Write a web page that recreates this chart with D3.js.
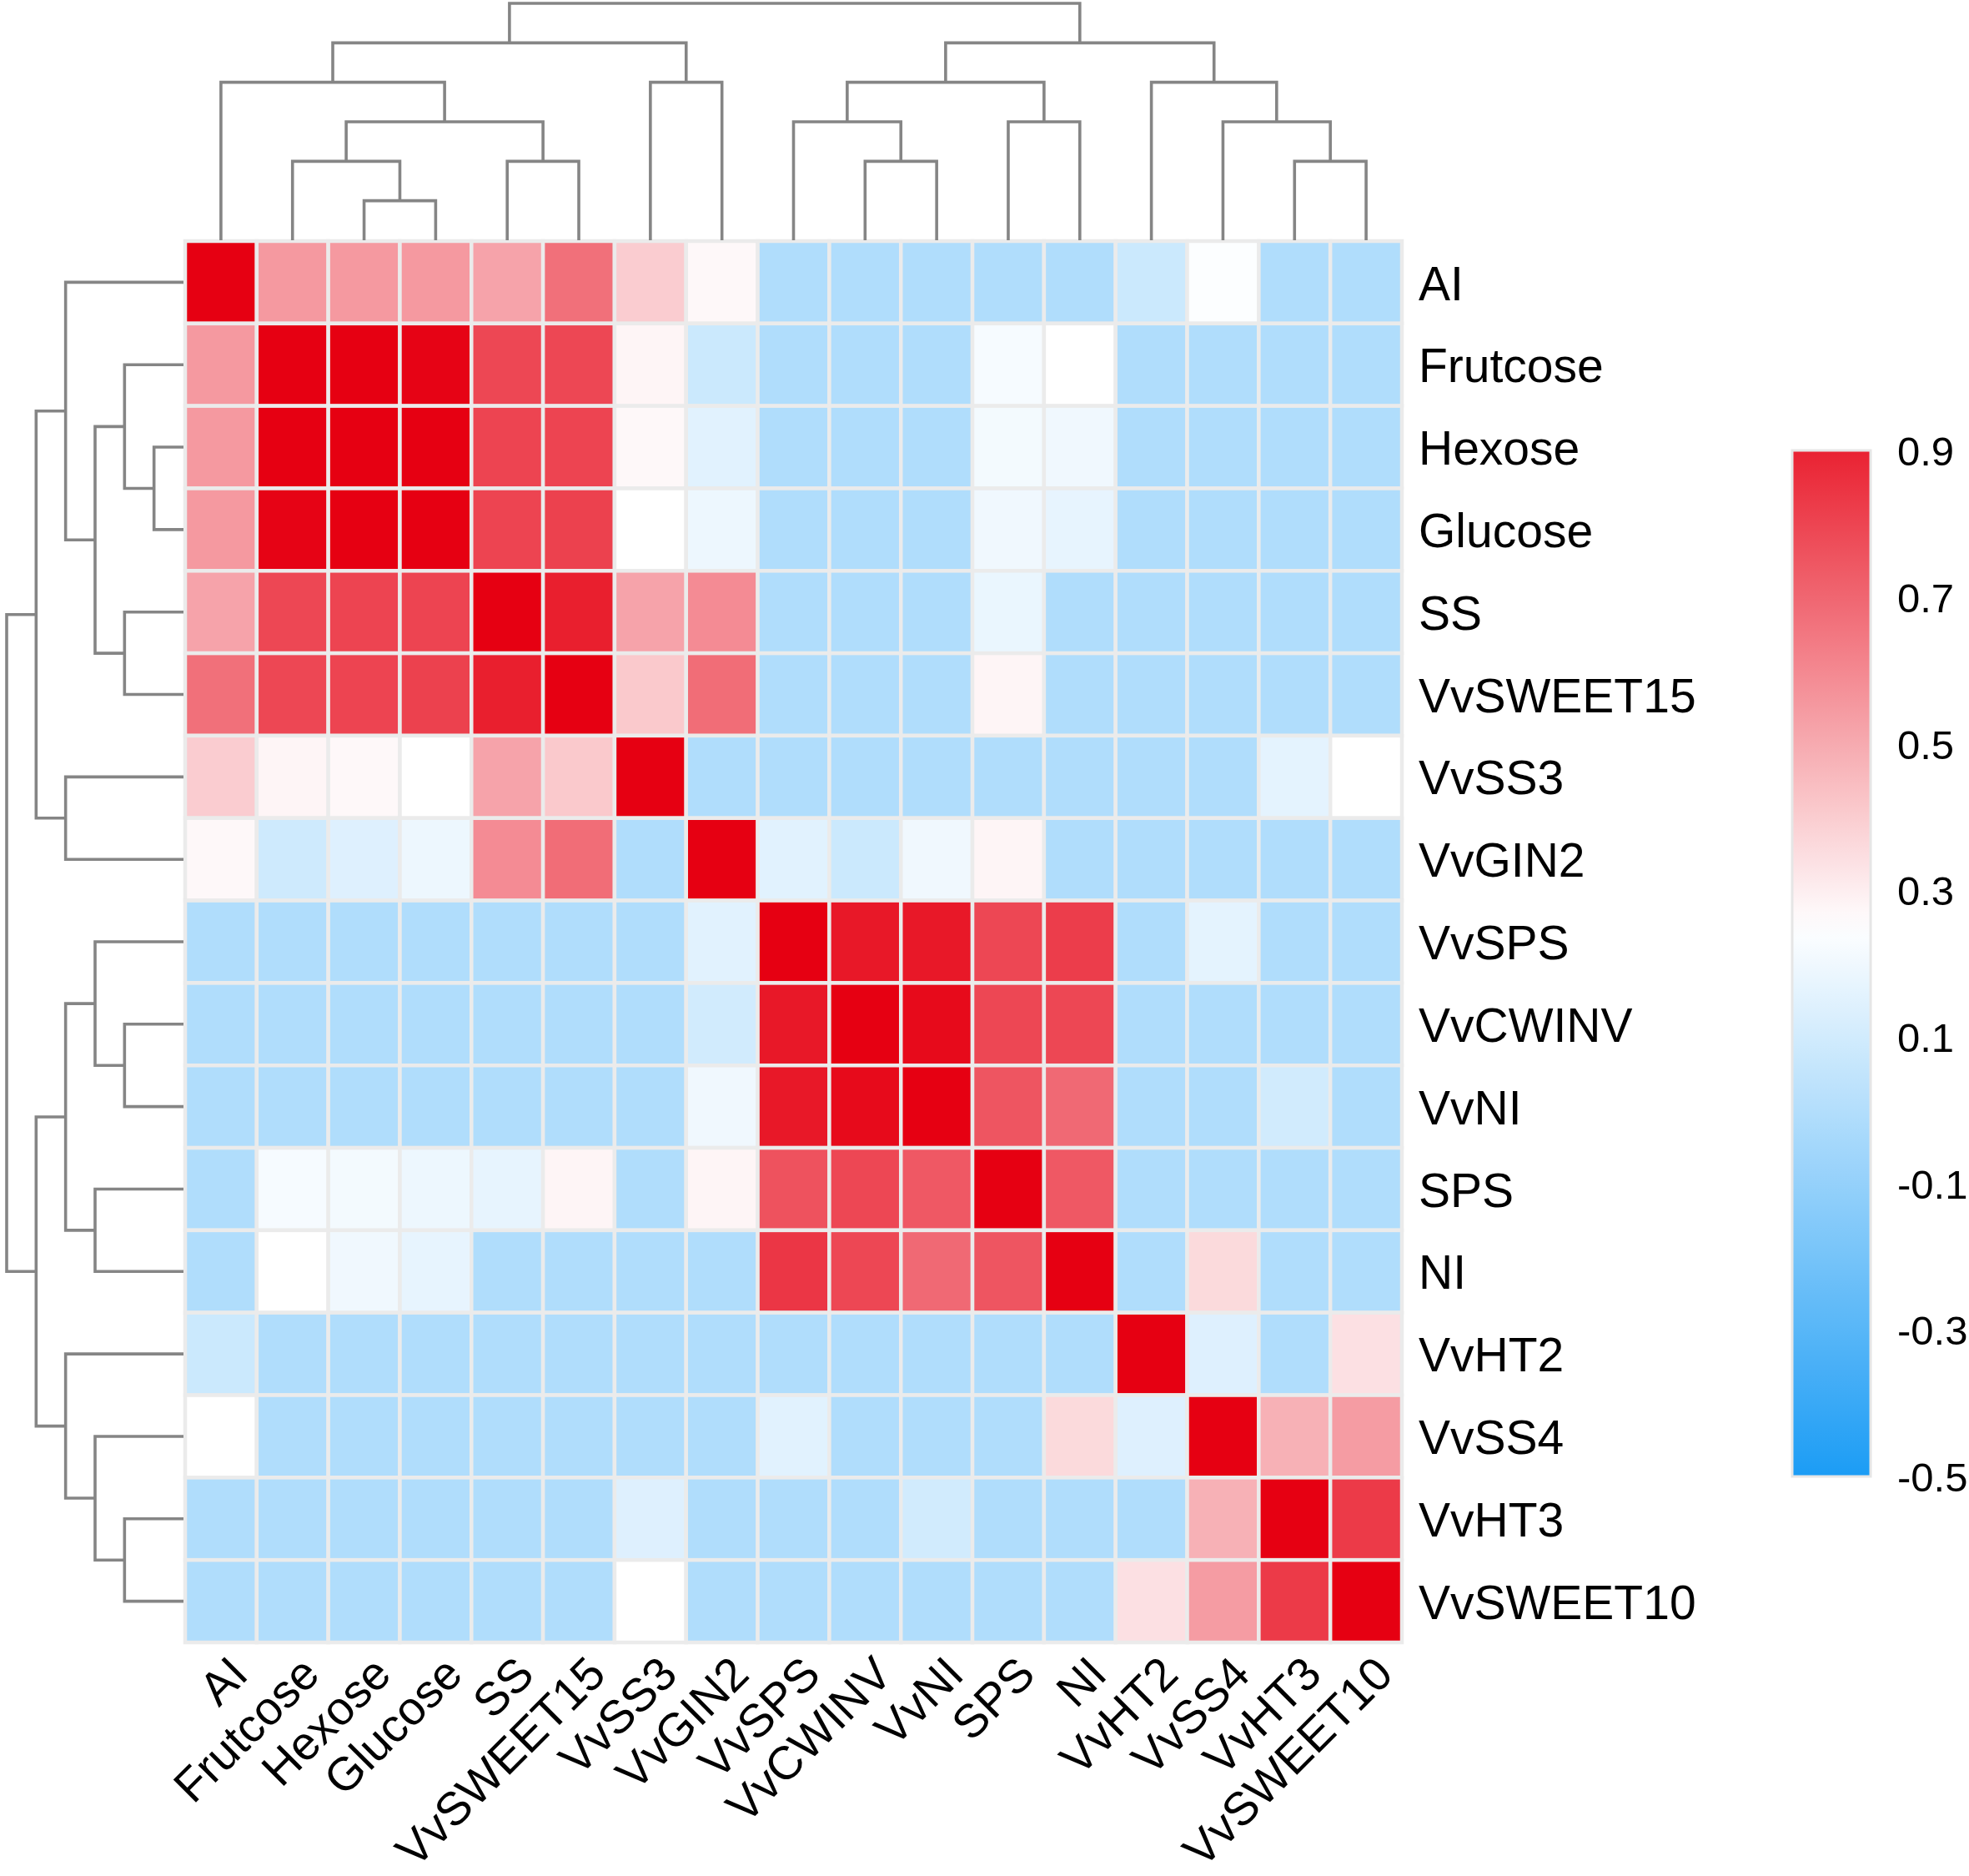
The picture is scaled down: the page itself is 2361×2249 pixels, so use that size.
<!DOCTYPE html>
<html>
<head>
<meta charset="utf-8">
<script src="https://cdn.jsdelivr.net/npm/d3@7"></script>
<style>
  body { margin: 0; background: #fff; }
  text { font-family: "Liberation Sans", Arial, sans-serif; fill: #000; }
</style>
</head>
<body>
<script>
// Data ////////////////////////////////////////////////////////////////////

const labels = [
  "AI", "Frutcose", "Hexose", "Glucose", "SS", "VvSWEET15", "VvSS3", "VvGIN2",
  "VvSPS", "VvCWINV", "VvNI", "SPS", "NI", "VvHT2", "VvSS4", "VvHT3", "VvSWEET10",
];

// correlation matrix, rows and columns in label order
const values = [
  [1.00, 0.55, 0.55, 0.55, 0.52, 0.67, 0.40, 0.27, -0.01, -0.01, -0.01, -0.01, -0.01, 0.08, 0.24, -0.01, -0.01],
  [0.55, 1.00, 1.00, 0.99, 0.79, 0.79, 0.28, 0.08, -0.01, -0.01, -0.01, 0.22, 0.25, -0.01, -0.01, -0.01, -0.01],
  [0.55, 1.00, 1.00, 1.00, 0.80, 0.80, 0.27, 0.15, -0.01, -0.01, -0.01, 0.21, 0.20, -0.01, -0.01, -0.01, -0.01],
  [0.55, 0.99, 1.00, 1.00, 0.80, 0.81, 0.25, 0.19, -0.01, -0.01, -0.01, 0.20, 0.17, -0.01, -0.01, -0.01, -0.01],
  [0.52, 0.79, 0.80, 0.80, 1.00, 0.91, 0.52, 0.59, -0.01, -0.01, -0.01, 0.18, -0.01, -0.01, -0.01, -0.01, -0.01],
  [0.67, 0.79, 0.80, 0.81, 0.91, 1.00, 0.41, 0.68, -0.01, -0.01, -0.01, 0.28, -0.01, -0.01, -0.01, -0.01, -0.01],
  [0.40, 0.28, 0.27, 0.25, 0.52, 0.41, 1.00, -0.01, -0.01, -0.01, -0.01, -0.01, -0.01, -0.01, -0.01, 0.16, 0.25],
  [0.27, 0.09, 0.14, 0.19, 0.59, 0.68, -0.01, 1.00, 0.15, 0.08, 0.20, 0.28, -0.01, -0.01, -0.01, -0.01, -0.01],
  [-0.01, -0.01, -0.01, -0.01, -0.01, -0.01, -0.01, 0.15, 1.00, 0.93, 0.93, 0.79, 0.82, -0.01, 0.16, -0.01, -0.01],
  [-0.01, -0.01, -0.01, -0.01, -0.01, -0.01, -0.01, 0.10, 0.93, 1.00, 0.97, 0.79, 0.79, -0.01, -0.01, -0.01, -0.01],
  [-0.01, -0.01, -0.01, -0.01, -0.01, -0.01, -0.01, 0.20, 0.93, 0.97, 1.00, 0.75, 0.69, -0.01, -0.01, 0.10, -0.01],
  [-0.01, 0.22, 0.21, 0.19, 0.17, 0.28, -0.01, 0.28, 0.76, 0.79, 0.74, 1.00, 0.74, -0.01, -0.01, -0.01, -0.01],
  [-0.01, 0.25, 0.20, 0.17, -0.01, -0.01, -0.01, -0.01, 0.84, 0.79, 0.69, 0.75, 1.00, -0.01, 0.36, -0.01, -0.01],
  [0.08, -0.01, -0.01, -0.01, -0.01, -0.01, -0.01, -0.01, -0.01, -0.01, -0.01, -0.01, -0.01, 1.00, 0.14, -0.01, 0.34],
  [0.25, -0.01, -0.01, -0.01, -0.01, -0.01, -0.01, -0.01, 0.15, -0.01, -0.01, -0.01, 0.36, 0.14, 1.00, 0.48, 0.54],
  [-0.01, -0.01, -0.01, -0.01, -0.01, -0.01, 0.14, -0.01, -0.01, -0.01, 0.10, -0.01, -0.01, -0.01, 0.48, 1.00, 0.83],
  [-0.01, -0.01, -0.01, -0.01, -0.01, -0.01, 0.25, -0.01, -0.01, -0.01, -0.01, -0.01, -0.01, 0.34, 0.54, 0.83, 1.00],
];

// hierarchical clustering merges (same tree for rows and columns), "mK" = K-th merge
const mergeLeft = ["Hexose", "Frutcose", "SS", "VvCWINV", "VvHT3", "m2", "VvSPS", "SPS",
  "VvSS4", "AI", "VvSS3", "m7", "VvHT2", "m10", "m12", "m14"];
const mergeRight = ["Glucose", "m1", "VvSWEET15", "VvNI", "VvSWEET10", "m3", "m4", "NI",
  "m5", "m6", "VvGIN2", "m8", "m9", "m11", "m13", "m15"];
const mergeHeight = [1, 2, 2, 2, 2, 3, 3, 3, 3, 4, 4, 4, 4, 5, 5, 6];

const legendTicks = [-0.5, -0.3, -0.1, 0.1, 0.3, 0.5, 0.7, 0.9];
const colorDomain = [-0.5, 0.25, 1.0];

// Layout //////////////////////////////////////////////////////////////////

const width = 2361;
const height = 2249;
const heat = { left: 222, right: 1681, top: 289, bottom: 1969 };
const legendBox = { x: 2149, y: 540, w: 94, h: 1230 };

const svg = d3
  .select("body")
  .append("svg")
  .attr("width", width)
  .attr("height", height);

svg.append("rect").attr("width", width).attr("height", height).attr("fill", "#fff");

const xScale = d3.scaleBand().domain(labels).range([heat.left, heat.right]);
const yScale = d3.scaleBand().domain(labels).range([heat.top, heat.bottom]);
const color = d3
  .scaleLinear()
  .domain(colorDomain)
  .range(["#1b9cf5", "#ffffff", "#e60012"])
  .clamp(true);

const tree = buildTree();

drawHeatmap(svg.append("g"));
drawRowLabels(svg.append("g"));
drawColumnLabels(svg.append("g"));
drawDendrogram(svg.append("g"), tree, "top");
drawDendrogram(svg.append("g"), tree, "left");
drawLegend(svg.append("g"));

// Heatmap /////////////////////////////////////////////////////////////////

function drawHeatmap(root) {
  const cells = values.flatMap((row, i) =>
    row.map((v, j) => ({ row: labels[i], col: labels[j], v }))
  );

  root
    .selectAll("rect")
    .data(cells)
    .join("rect")
    .attr("x", (d) => xScale(d.col))
    .attr("y", (d) => yScale(d.row))
    .attr("width", xScale.bandwidth())
    .attr("height", yScale.bandwidth())
    .attr("fill", (d) => color(d.v))
    .attr("stroke", "#ebebeb")
    .attr("stroke-width", 4.5);
}

function drawRowLabels(root) {
  root
    .attr("transform", `translate(${heat.right}, 0)`)
    .call(d3.axisRight(yScale).tickSize(0).tickPadding(20))
    .call((g) => g.select(".domain").remove())
    .selectAll("text")
    .attr("dy", "0.37em")
    .attr("font-size", 57)
    .attr("font-family", '"Liberation Sans", Arial, sans-serif')
    .attr("fill", "#000");
}

function drawColumnLabels(root) {
  root
    .attr("transform", `translate(0, ${heat.bottom})`)
    .call(d3.axisBottom(xScale).tickSize(0))
    .call((g) => g.select(".domain").remove())
    .selectAll("text")
    .attr("x", 0)
    .attr("y", 0)
    .attr("dy", 0)
    .attr("transform", "translate(35, 41) rotate(-45)")
    .attr("text-anchor", "end")
    .attr("font-size", 56)
    .attr("font-family", '"Liberation Sans", Arial, sans-serif')
    .attr("fill", "#000");
}

// Dendrogram //////////////////////////////////////////////////////////////

function buildTree() {
  const nodes = new Map(labels.map((name) => [name, { name, height: 0 }]));
  mergeHeight.forEach((h, i) => {
    const id = `m${i + 1}`;
    nodes.set(id, {
      name: id,
      height: h,
      children: [nodes.get(mergeLeft[i]), nodes.get(mergeRight[i])],
    });
  });
  return d3.hierarchy(nodes.get(`m${mergeHeight.length}`));
}

function drawDendrogram(root, hier, side) {
  const band = side === "top" ? xScale : yScale;
  const hScale =
    side === "top"
      ? d3.scaleLinear().domain([0, 6]).range([heat.top - 1, 4])
      : d3.scaleLinear().domain([0, 6]).range([heat.left - 2, 8]);

  // leaf positions from the band scale, internal nodes at the mean of children
  hier.eachAfter((node) => {
    node.pos = node.children
      ? d3.mean(node.children, (c) => c.pos)
      : band(node.data.name) + band.bandwidth() / 2;
  });

  const paths = hier.descendants().filter((d) => d.children);

  root
    .selectAll("path")
    .data(paths)
    .join("path")
    .attr("fill", "none")
    .attr("stroke", "#858585")
    .attr("stroke-width", 3.6)
    .attr("d", (d) => {
      const [a, b] = d.children;
      const h = hScale(d.data.height);
      const ha = hScale(a.data.height);
      const hb = hScale(b.data.height);
      return side === "top"
        ? `M${a.pos},${ha}V${h}H${b.pos}V${hb}`
        : `M${ha},${a.pos}H${h}V${b.pos}H${hb}`;
    });
}

// Legend //////////////////////////////////////////////////////////////////

function drawLegend(root) {
  const legendScale = d3
    .scaleLinear()
    .domain([legendTicks[0], legendTicks[legendTicks.length - 1]])
    .range([legendBox.y + legendBox.h, legendBox.y]);

  const grad = svg
    .append("defs")
    .append("linearGradient")
    .attr("id", "legend-grad")
    .attr("x1", 0)
    .attr("y1", 1)
    .attr("x2", 0)
    .attr("y2", 0);

  const [lo, hi] = legendScale.domain();
  grad
    .selectAll("stop")
    .data(d3.range(0, 1.0001, 0.025))
    .join("stop")
    .attr("offset", (t) => t)
    .attr("stop-color", (t) => color(lo + t * (hi - lo)));

  root
    .append("rect")
    .attr("x", legendBox.x)
    .attr("y", legendBox.y)
    .attr("width", legendBox.w)
    .attr("height", legendBox.h)
    .attr("fill", "url(#legend-grad)")
    .attr("stroke", "#e6e6e6")
    .attr("stroke-width", 3);

  root
    .append("g")
    .attr("transform", `translate(${legendBox.x + legendBox.w}, 0)`)
    .call(
      d3
        .axisRight(legendScale)
        .tickValues(legendTicks)
        .tickSize(0)
        .tickPadding(32)
        .tickFormat((d) => d.toFixed(1))
    )
    .call((g) => g.select(".domain").remove())
    .selectAll("text")
    .attr("dy", "0.36em")
    .attr("font-size", 49)
    .attr("font-family", '"Liberation Sans", Arial, sans-serif')
    .attr("fill", "#000");
}
</script>
</body>
</html>
